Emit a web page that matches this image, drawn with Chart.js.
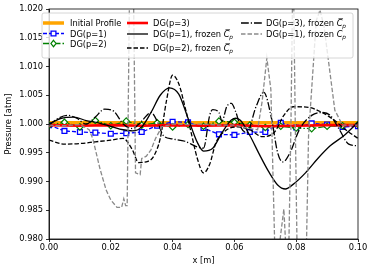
<!DOCTYPE html>
<html><head><meta charset="utf-8">
<script src="https://cdn.jsdelivr.net/npm/chart.js@4/dist/chart.umd.min.js"></script>
<style>html,body{margin:0;padding:0;background:#fff}</style>
</head><body>
<canvas id="c" width="374" height="272"></canvas>
<script>
// ---------- data ----------
const xTicks = [0, 0.02, 0.04, 0.06, 0.08, 0.10];
const yTicks = [0.980, 0.985, 0.990, 0.995, 1.000, 1.005, 1.010, 1.015, 1.020];

const initX = [0, 0.1];
const initY = [1.0002, 1.0002];

const gridX = [0,0.005,0.01,0.015,0.02,0.025,0.03,0.035,0.04,0.045,0.05,0.055,0.06,0.065,0.07,0.075,0.08,0.085,0.09,0.095,0.1];
const p1Y = [0.9998,0.9988,0.9986,0.9985,0.9983,0.9984,0.9986,0.9997,1.0004,1.0003,0.9993,0.9982,0.9981,0.9986,0.9986,1.0002,0.9994,1.0001,0.9999,0.9995,0.9996];
const p2Y = [0.9998,1.0003,0.9995,1.0006,0.9997,1.0005,0.9998,1.0002,0.9995,0.9999,0.9996,1.0005,1.0003,0.9998,0.9994,0.9996,0.9993,0.9992,0.9996,0.9997,0.9999];

const p3X = [0,0.01,0.02,0.03,0.04,0.05,0.06,0.07,0.08,0.09,0.1];
const p3Y = [0.9998,0.9997,0.9998,0.9997,0.9998,0.9997,0.9998,0.9996,0.9997,0.9998,0.9998];

const f1X = [0,0.004,0.008,0.012,0.016,0.02,0.024,0.027,0.03,0.033,0.036,0.039,0.042,0.045,0.048,0.05,0.053,0.056,0.059,0.0605,0.062,0.065,0.068,0.071,0.074,0.0765,0.079,0.083,0.087,0.091,0.0955,0.1];
const f1Y = [1.0000,1.0010,1.0012,1.0006,1.0002,0.9996,0.9990,0.9988,0.9995,1.0020,1.0050,1.0063,1.0052,1.0010,0.9968,0.9953,0.9958,0.9985,1.0007,1.0010,1.0006,0.9980,0.9948,0.9918,0.9894,0.9887,0.9895,0.9915,0.9940,0.9962,0.9980,1.0003];

const f2X = [0,0.005,0.01,0.015,0.02,0.024,0.027,0.029,0.032,0.034,0.036,0.038,0.04,0.042,0.044,0.046,0.048,0.05,0.052,0.054,0.057,0.061,0.065,0.069,0.073,0.076,0.079,0.084,0.088,0.092,0.096,0.1];
const f2Y = [0.9972,0.9965,0.9966,0.9969,0.9972,0.9975,0.9955,0.9933,0.9935,0.9945,0.9975,1.0040,1.0085,1.0070,1.0030,0.9985,0.9940,0.9915,0.9930,0.9967,0.9988,0.9995,0.9990,0.9978,0.9986,1.0015,1.0030,1.0029,1.0021,1.0008,0.9990,0.9975];

const f3X = [0,0.003,0.006,0.009,0.012,0.015,0.018,0.021,0.024,0.027,0.03,0.033,0.035,0.037,0.04,0.044,0.048,0.05,0.052,0.053,0.055,0.056,0.0575,0.059,0.0605,0.062,0.064,0.067,0.0695,0.072,0.074,0.0757,0.078,0.081,0.085,0.088,0.091,0.094,0.097,0.1];
const f3Y = [0.9998,1.0010,1.0015,1.0010,1.0000,1.0012,1.0026,1.0022,1.0000,0.9992,1.0005,1.0020,1.0005,0.9980,0.9974,0.9970,0.9960,0.9958,1.0015,1.0025,1.0020,1.0005,1.0030,1.0036,1.0020,0.9995,0.9985,1.0030,1.0055,1.0010,0.9950,0.9934,0.9950,0.9990,1.0015,1.0020,1.0015,0.9990,0.9965,0.9962];

const fcX = [0,0.005,0.01,0.013,0.0142,0.0165,0.0185,0.02,0.022,0.0235,0.0242,0.0248,0.0253,0.0262,0.0272,0.028,0.0295,0.03,0.0315,0.033,0.0345,0.0365,0.04,0.045,0.05,0.055,0.06,0.065,0.0675,0.069,0.0705,0.0718,0.073,0.0738,0.0748,0.076,0.0767,0.0775,0.0783,0.079,0.0797,0.0805,0.083,0.084,0.0865,0.0877,0.089,0.0925,0.095,0.1];
const fcY = [0.9998,0.9997,0.9999,0.9990,0.9974,0.9922,0.9885,0.9868,0.9855,0.9855,0.9870,0.9858,0.9858,1.0300,1.0300,0.9915,0.9912,0.9940,0.9944,0.9955,0.9975,0.9995,1.0000,0.9999,1.0000,0.9998,0.9998,0.9992,0.9990,1.0040,1.0115,1.0060,0.9800,0.9700,0.9800,0.9852,0.9780,0.9750,1.0000,1.0300,1.0000,0.9700,0.9700,0.9980,1.0180,1.0198,1.0170,1.0024,0.9998,0.9998];

const names = ['Initial Profile','DG(p=1)','DG(p=2)','DG(p=3)','DG(p=1), frozen ','DG(p=2), frozen ','DG(p=3), frozen ','DG(p=1), frozen '];
const nameMath = ['', '', '', '', 'Cbar', 'Cbar', 'Cbar', 'C'];

// ---------- build ----------
const pts = (X, Y) => X.map((v, i) => ({x: v, y: Y[i]}));
const FONT = '"DejaVu Sans", sans-serif';
const datasets = [
  {label:names[0], data:pts(initX,initY), borderColor:'#ffa500', borderWidth:3.5, pointRadius:0, order:8},
  {label:names[1], data:pts(gridX,p1Y), borderColor:'#0000ff', borderWidth:1.3, borderDash:[4,2],
   pointStyle:'rect', pointRadius:3.4, pointBorderWidth:1.3, pointBackgroundColor:'#fff', pointBorderColor:'#0000ff', order:7},
  {label:names[2], data:pts(gridX,p2Y), borderColor:'#008000', borderWidth:1.3, borderDash:[6,2,1.5,2],
   pointStyle:'rectRot', pointRadius:3.2, pointBorderWidth:1.2, pointBackgroundColor:'#fff', pointBorderColor:'#008000', order:6},
  {label:names[3], data:pts(p3X,p3Y), borderColor:'#ff0000', borderWidth:2.6, pointRadius:0, order:5},
  {label:names[4], data:pts(f1X,f1Y), borderColor:'#000', borderWidth:1.3, pointRadius:0, cubicInterpolationMode:'monotone', order:4},
  {label:names[5], data:pts(f2X,f2Y), borderColor:'#000', borderWidth:1.3, borderDash:[4.5,2], pointRadius:0, cubicInterpolationMode:'monotone', order:3},
  {label:names[6], data:pts(f3X,f3Y), borderColor:'#000', borderWidth:1.3, borderDash:[7.8,2,1.2,2], pointRadius:0, cubicInterpolationMode:'monotone', order:2},
  {label:names[7], data:pts(fcX,fcY), borderColor:'#8a8a8a', borderWidth:1.3, borderDash:[4.5,2], pointRadius:0, tension:0, order:1}
];
datasets.forEach(d => { d.fill = false; d.clip = 0; if (d.tension === undefined) d.tension = 0; });

const legendPlugin = {
  id: 'mplLegend',
  afterDatasetsDraw(chart) {
    const ctx = chart.ctx, a = chart.chartArea;
    ctx.save();
    ctx.setLineDash([]);
    ctx.strokeStyle = '#000'; ctx.lineWidth = 0.8;
    ctx.strokeRect(a.left, a.top, a.right - a.left, a.bottom - a.top);
    // legend box
    const bx = 42, by = 13, bw = 311, bh = 45, r = 2;
    ctx.beginPath();
    ctx.moveTo(bx + r, by); ctx.lineTo(bx + bw - r, by); ctx.arcTo(bx + bw, by, bx + bw, by + r, r);
    ctx.lineTo(bx + bw, by + bh - r); ctx.arcTo(bx + bw, by + bh, bx + bw - r, by + bh, r);
    ctx.lineTo(bx + r, by + bh); ctx.arcTo(bx, by + bh, bx, by + bh - r, r);
    ctx.lineTo(bx, by + r); ctx.arcTo(bx, by, bx + r, by, r); ctx.closePath();
    ctx.fillStyle = 'rgba(255,255,255,0.8)'; ctx.fill();
    ctx.strokeStyle = '#cccccc'; ctx.lineWidth = 0.8; ctx.stroke();
    const colHx = [43, 127, 241], colTx = [70, 153, 266], hl = 21;
    const place = [[0,23],[0,33.5],[0,43.5],[1,23],[1,34],[1,48],[2,23],[2,34]];
    chart.data.datasets.forEach((ds, i) => {
      const [c, y] = place[i];
      const x0 = colHx[c];
      ctx.setLineDash(ds.borderDash || []);
      ctx.lineWidth = ds.borderWidth; ctx.strokeStyle = ds.borderColor;
      ctx.beginPath(); ctx.moveTo(x0, y); ctx.lineTo(x0 + hl, y); ctx.stroke();
      ctx.setLineDash([]);
      if (ds.pointRadius > 0) {
        const cx = x0 + hl / 2, s = ds.pointRadius * Math.SQRT1_2;
        ctx.fillStyle = ds.pointBackgroundColor; ctx.strokeStyle = ds.pointBorderColor; ctx.lineWidth = ds.pointBorderWidth;
        ctx.beginPath();
        if (ds.pointStyle === 'rect') ctx.rect(cx - s, y - s, 2 * s, 2 * s);
        else { const q = ds.pointRadius; ctx.moveTo(cx, y - q); ctx.lineTo(cx + q * 0.8, y); ctx.lineTo(cx, y + q); ctx.lineTo(cx - q * 0.8, y); ctx.closePath(); }
        ctx.fill(); ctx.stroke();
      }
      const base = y + 3;
      ctx.fillStyle = '#000'; ctx.textBaseline = 'alphabetic'; ctx.textAlign = 'left';
      ctx.font = '8.3px ' + FONT;
      let tx = colTx[c];
      ctx.fillText(ds.label, tx, base);
      tx += ctx.measureText(ds.label).width;
      const m = nameMath[i];
      if (m) {
        ctx.font = 'italic 8.3px ' + FONT;
        ctx.fillText('C', tx, base);
        const cw = ctx.measureText('C').width;
        if (m === 'Cbar') {
          ctx.strokeStyle = '#000'; ctx.lineWidth = 0.6;
          ctx.beginPath(); ctx.moveTo(tx + 1.8, base - 7.4); ctx.lineTo(tx + cw + 0.6, base - 7.4); ctx.stroke();
        }
        ctx.font = 'italic 5.8px ' + FONT;
        ctx.fillText('p', tx + cw - 0.3, base + 1.8);
      }
    });
    ctx.restore();
  }
};

new Chart(document.getElementById('c'), {
  type: 'line',
  data: { datasets },
  plugins: [legendPlugin],
  options: {
    responsive: false, animation: false, devicePixelRatio: 1,
    layout: { padding: { top: 9, right: 16, left: 0, bottom: 0 } },
    plugins: { legend: { display: false }, tooltip: { enabled: false } },
    scales: {
      x: {
        type: 'linear', min: 0, max: 0.1,
        afterBuildTicks: s => { s.ticks = xTicks.map(v => ({ value: v })); },
        afterFit: s => { s.height = 33; },
        ticks: { callback: v => v.toFixed(2), color: '#000', font: { size: 8.3, family: FONT }, padding: 1, maxRotation: 0, autoSkip: false },
        grid: { drawOnChartArea: false, drawTicks: true, tickLength: 3, color: '#000', tickWidth: 0.8 },
        border: { display: true, color: '#000', width: 0.8 },
        title: { display: true, text: 'x [m]', color: '#000', font: { size: 8.3, family: FONT }, padding: { top: 0, bottom: 6 } }
      },
      y: {
        type: 'linear', min: 0.98, max: 1.02,
        afterBuildTicks: s => { s.ticks = yTicks.map(v => ({ value: v })); },
        afterFit: s => { s.width = 49; },
        ticks: { callback: v => v.toFixed(3), color: '#000', font: { size: 8.3, family: FONT }, padding: 3, autoSkip: false },
        grid: { drawOnChartArea: false, drawTicks: true, tickLength: 3, color: '#000', tickWidth: 0.8 },
        border: { display: true, color: '#000', width: 0.8 },
        title: { display: true, text: 'Pressure [atm]', color: '#000', font: { size: 8.3, family: FONT }, padding: { top: 4, bottom: 0 } }
      }
    }
  }
});
</script>
</body></html>
